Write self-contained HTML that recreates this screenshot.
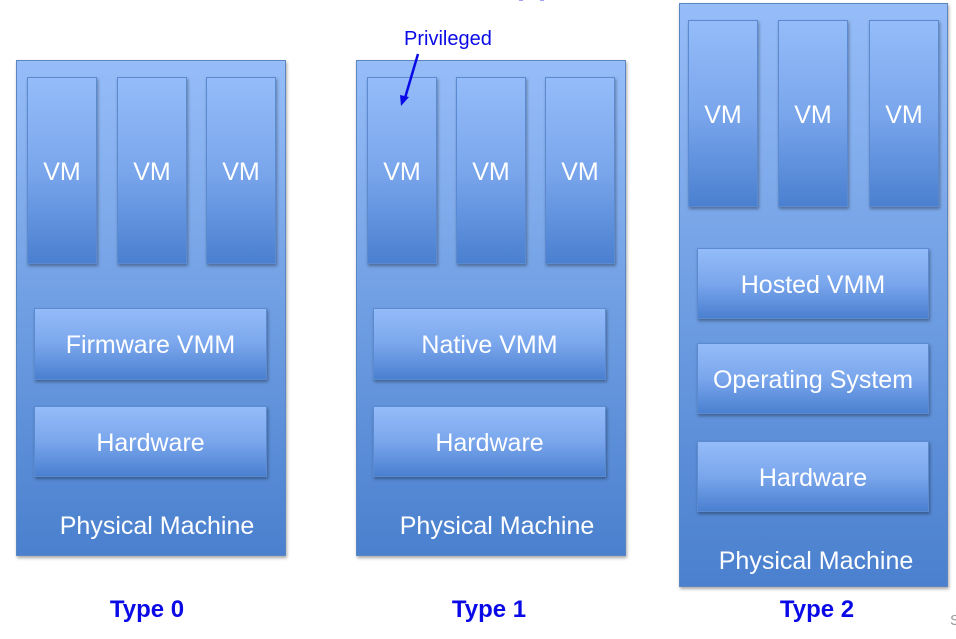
<!DOCTYPE html>
<html><head><meta charset="utf-8"><style>
body{margin:0;width:956px;height:639px;background:#fff;position:relative;overflow:hidden;font-family:"Liberation Sans",sans-serif}
.o{position:absolute;background:linear-gradient(#96bdf8,#4a80ce);border:1px solid #5a86c4;box-shadow:1px 2px 3px rgba(0,0,0,.35);box-sizing:border-box}
.b{position:absolute;background:linear-gradient(#94bcf9 0%,#7aa6ec 50%,#4a80d0 100%);border:1px solid #5c8ad0;box-shadow:1px 2px 3px rgba(0,0,0,.35);box-sizing:border-box;color:#fff;font-size:25px;display:flex;align-items:center;justify-content:center;white-space:nowrap;padding-top:3px}
.t{position:absolute;color:#fff;font-size:25px;white-space:nowrap;transform:translateX(-50%)}
.ty{position:absolute;color:#0a0ae6;font-weight:bold;font-size:24px;transform:translateX(-50%)}
</style></head><body>
<div class="o" style="left:16px;top:60px;width:270px;height:496px"></div>
<div class="b" style="left:27px;top:77px;width:70px;height:187px">VM</div>
<div class="b" style="left:117px;top:77px;width:70px;height:187px">VM</div>
<div class="b" style="left:206px;top:77px;width:70px;height:187px">VM</div>
<div class="b" style="left:34px;top:308px;width:233px;height:72px">Firmware VMM</div>
<div class="b" style="left:34px;top:406px;width:233px;height:71px">Hardware</div>
<div class="t" style="left:157px;top:512px">Physical Machine</div>

<div class="o" style="left:356px;top:60px;width:270px;height:496px"></div>
<div class="b" style="left:367px;top:77px;width:70px;height:187px">VM</div>
<div class="b" style="left:456px;top:77px;width:70px;height:187px">VM</div>
<div class="b" style="left:545px;top:77px;width:70px;height:187px">VM</div>
<div class="b" style="left:373px;top:308px;width:233px;height:72px">Native VMM</div>
<div class="b" style="left:373px;top:406px;width:233px;height:71px">Hardware</div>
<div class="t" style="left:497px;top:512px">Physical Machine</div>

<div class="o" style="left:679px;top:3px;width:269px;height:584px"></div>
<div class="b" style="left:688px;top:20px;width:70px;height:187px">VM</div>
<div class="b" style="left:778px;top:20px;width:70px;height:187px">VM</div>
<div class="b" style="left:869px;top:20px;width:70px;height:187px">VM</div>
<div class="b" style="left:697px;top:248px;width:232px;height:71px">Hosted VMM</div>
<div class="b" style="left:697px;top:343px;width:232px;height:71px">Operating System</div>
<div class="b" style="left:697px;top:441px;width:232px;height:71px">Hardware</div>
<div class="t" style="left:816px;top:547px">Physical Machine</div>

<div style="position:absolute;left:404px;top:28px;color:#0a0ae6;font-size:20px">Privileged</div>
<svg style="position:absolute;left:0;top:0" width="956" height="639">
<line x1="418" y1="54" x2="405" y2="98" stroke="#0a0ae6" stroke-width="2.5"/>
<polygon points="401,106 400,95 409,97" fill="#0a0ae6"/>
<rect x="519" y="0" width="4" height="1" fill="#a0a0f4"/><rect x="540" y="0" width="4" height="1" fill="#a0a0f4"/>
</svg>
<div class="ty" style="left:147px;top:596px">Type 0</div>
<div class="ty" style="left:489px;top:596px">Type 1</div>
<div class="ty" style="left:817px;top:596px">Type 2</div>
<div style="position:absolute;left:950px;top:612px;color:#999;font-size:15px">S</div>
</body></html>
